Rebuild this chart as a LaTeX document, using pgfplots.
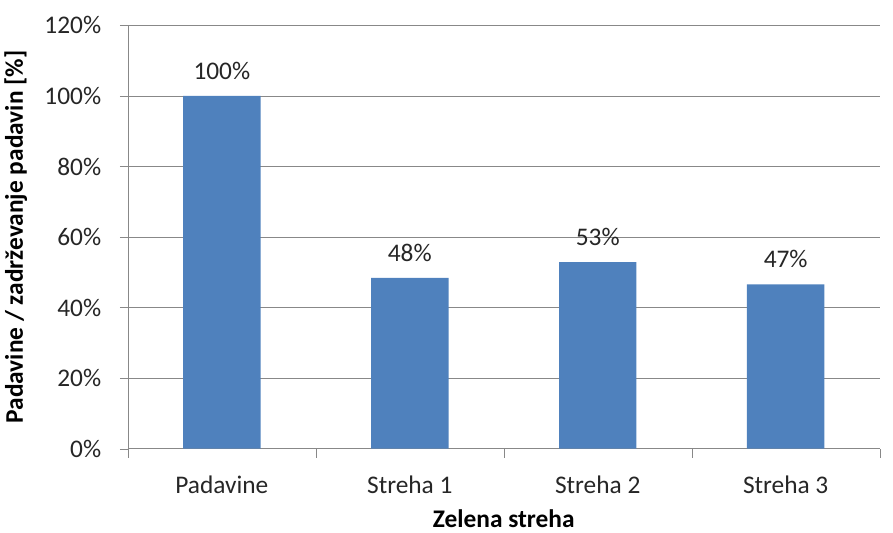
\documentclass[border=0pt]{standalone}
\usepackage{pgfplots}
\pgfplotsset{compat=1.18}
\usepackage{fontspec}
\setmainfont{Carlito}
\definecolor{barblue}{HTML}{4F81BD}
\definecolor{gridgray}{HTML}{888888}
\begin{document}
\begin{tikzpicture}
\begin{axis}[
    scale only axis,
    width=563pt, height=317pt,
    xmin=-0.5, xmax=3.5,
    ymin=0, ymax=120,
    axis x line*=bottom, axis y line*=left,
    axis line style={-, gridgray},
    xtick={0,1,2,3},
    xticklabels={Padavine, Streha 1, Streha 2, Streha 3},
    minor xtick={-0.5,0.5,1.5,2.5,3.5},
    major x tick style={draw=none},
    minor tick length=7pt,
    ytick={0,20,...,120},
    yticklabel={\pgfmathprintnumber{\tick}\%},
    /pgf/number format/assume math mode=true,
    tick align=outside,
    major tick length=6pt,
    tick style={gridgray},
    ymajorgrids,
    grid style={gridgray},
    ticklabel style={font=\fontsize{19pt}{22pt}\selectfont, color=black!85},
    xticklabel style={yshift=-11pt},
    yticklabel style={xshift=-10.5pt},
    xlabel={\bfseries Zelena streha},
    ylabel={\bfseries Padavine / zadrževanje padavin [\%]},
    label style={font=\fontsize{19pt}{22pt}\selectfont},
    ylabel style={yshift=6pt},
    xlabel style={yshift=-5pt},
    ybar, bar width=58pt,
    nodes near coords={\pgfmathprintnumber[fixed,precision=0]{\pgfplotspointmeta}\%},
    nodes near coords style={font=\fontsize{19pt}{22pt}\selectfont, color=black!85, yshift=8.5pt},
]
\addplot[fill=barblue, draw=none] coordinates {(0,100) (1,48.4) (2,52.9) (3,46.6)};
\end{axis}
\path (current axis.north east) ++(10pt,0) coordinate (r);
\path (r) circle (0pt);
\path (current axis.north) ++(0,19pt) coordinate (t);
\path (t) circle (0pt);
\end{tikzpicture}
\end{document}
